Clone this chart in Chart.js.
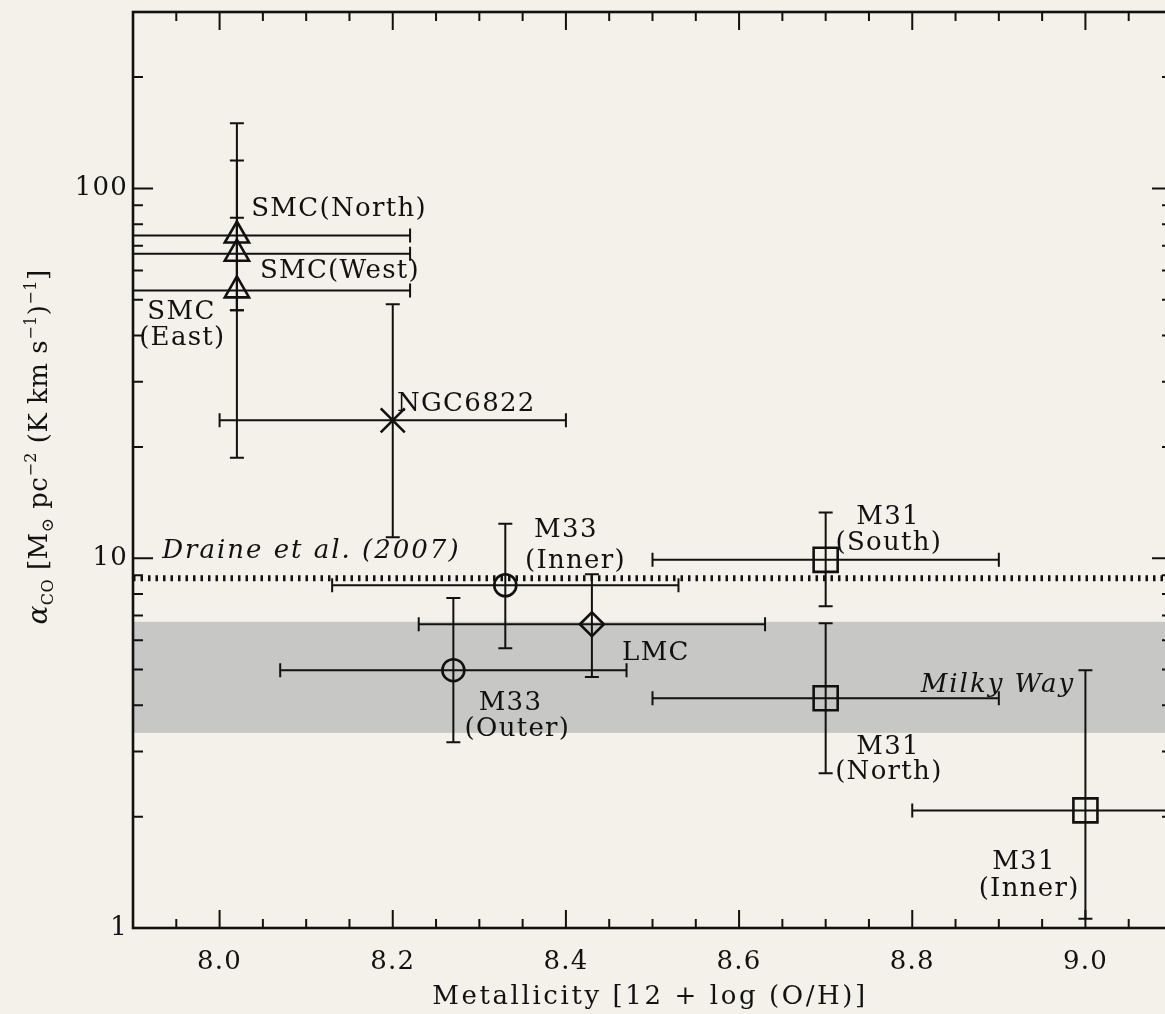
<!DOCTYPE html>
<html><head><meta charset="utf-8">
<script src="https://cdn.jsdelivr.net/npm/chart.js@4.4.0/dist/chart.umd.min.js"></script>
<style>
html,body{margin:0;padding:0;background:#f4f1ea;overflow:hidden;width:1165px;height:1014px;}
#c{position:absolute;left:0;top:0;width:1180px;height:1014px;}
</style></head><body>
<canvas id="c" width="1180" height="1014"></canvas>
<script>
// ---------------- data ----------------
const names        = ['SMC(North)','SMC(West)','SMC(East)','NGC6822','M33(Inner)','M33(Outer)','LMC','M31(South)','M31(North)','M31(Inner)'];
const metallicity  = [8.02, 8.02, 8.02, 8.20, 8.33, 8.27, 8.43, 8.70, 8.70, 9.00];
const metalErr     = [0.20, 0.20, 0.20, 0.20, 0.20, 0.20, 0.20, 0.20, 0.20, 0.20];
const alphaCO      = [74.6, 66.6, 53.0, 23.6, 8.45, 4.98, 6.63, 9.9, 4.18, 2.08];
const alphaLow     = [46.8, 46.8, 18.7, 11.4, 5.71, 3.18, 4.77, 7.42, 2.62, 1.06];
const alphaHigh    = [150, 119, 83.3, 48.6, 12.4, 7.8, 9.05, 13.3, 6.67, 4.98];
const markers      = ['triangle','triangle','triangle','crossRot','circle','circle','rectRot','rect','rect','rect'];

const draineAlpha  = 8.83;            // Draine et al. (2007)
const milkyWayBand = [3.37, 6.73];    // Milky Way range

const xMajorTicks = [8.0, 8.2, 8.4, 8.6, 8.8, 9.0];
const xMinorTicks = [7.95, 8.05, 8.1, 8.15, 8.25, 8.3, 8.35, 8.45, 8.5, 8.55, 8.65, 8.7, 8.75, 8.85, 8.9, 8.95, 9.05];
const yMajorTicks = [1, 10, 100];
const yMinorTicks = [2,3,4,5,6,7,8,9,20,30,40,50,60,70,80,90,200,300];

const xTitle = 'Metallicity [12 + log (O/H)]';

// label anchors in data units [text, x, y, italic]
const labels = [
  ['SMC(North)', 8.138, 87.8, false],
  ['SMC(West)', 8.139, 59.7, false],
  ['SMC', 7.956, 46.2, false],
  ['(East)', 7.957, 39.3, false],
  ['NGC6822', 8.285, 26.1, false],
  ['Draine et al. (2007)', 8.106, 10.44, true],
  ['M33', 8.400, 11.9, false],
  ['(Inner)', 8.411, 9.81, false],
  ['LMC', 8.504, 5.54, false],
  ['M33', 8.336, 4.06, false],
  ['(Outer)', 8.344, 3.45, false],
  ['M31', 8.772, 12.9, false],
  ['(South)', 8.773, 10.98, false],
  ['Milky Way', 8.899, 4.54, true],
  ['M31', 8.772, 3.08, false],
  ['(North)', 8.773, 2.64, false],
  ['M31', 8.929, 1.51, false],
  ['(Inner)', 8.935, 1.27, false]
];

const FONT = '"DejaVu Serif", "Liberation Serif", serif';
const INK = '#111';

const points = names.map((n,i)=>({x:metallicity[i], y:alphaCO[i]}));
const radii = markers.map(m => m==='triangle'?14 : m==='rect'?17 : m==='crossRot'?17 : m==='rectRot'?12 : 11);

const spacingPlugin = {
  id:'spacing',
  beforeDraw(chart){ chart.ctx.letterSpacing = '1.2px'; }
};

const bandPlugin = {
  id:'band',
  beforeDatasetsDraw(chart){
    const {ctx, chartArea:a, scales:{y}} = chart;
    const y1 = y.getPixelForValue(milkyWayBand[1]), y0 = y.getPixelForValue(milkyWayBand[0]);
    ctx.save();
    ctx.fillStyle = '#c7c7c6';
    ctx.fillRect(a.left, y1, a.right-a.left, y0-y1);
    ctx.restore();
  }
};

const errPlugin = {
  id:'errbars',
  afterDatasetsDraw(chart){
    const {ctx, chartArea:a, scales:{x,y}} = chart;
    ctx.save();
    ctx.beginPath(); ctx.rect(a.left, a.top, a.right-a.left, a.bottom-a.top); ctx.clip();
    ctx.strokeStyle = INK; ctx.lineWidth = 2;
    const cap = 7;
    names.forEach((n,i)=>{
      const px = x.getPixelForValue(metallicity[i]);
      const py = y.getPixelForValue(alphaCO[i]);
      const xl = x.getPixelForValue(metallicity[i]-metalErr[i]);
      const xr = x.getPixelForValue(metallicity[i]+metalErr[i]);
      const yl = y.getPixelForValue(alphaLow[i]);
      const yh = y.getPixelForValue(alphaHigh[i]);
      ctx.beginPath();
      ctx.moveTo(xl,py); ctx.lineTo(xr,py);
      ctx.moveTo(xl,py-cap); ctx.lineTo(xl,py+cap);
      ctx.moveTo(xr,py-cap); ctx.lineTo(xr,py+cap);
      ctx.moveTo(px,yl); ctx.lineTo(px,yh);
      ctx.moveTo(px-cap,yl); ctx.lineTo(px+cap,yl);
      ctx.moveTo(px-cap,yh); ctx.lineTo(px+cap,yh);
      ctx.stroke();
    });
    ctx.restore();
  }
};

const framePlugin = {
  id:'frame',
  afterDraw(chart){
    const {ctx, chartArea:a, scales:{x,y}} = chart;
    ctx.save();
    ctx.strokeStyle = INK;
    ctx.lineWidth = 2;
    ctx.beginPath();
    const tk = (v, len) => {
      const p = x.getPixelForValue(v);
      ctx.moveTo(p, a.bottom); ctx.lineTo(p, a.bottom-len);
      ctx.moveTo(p, a.top); ctx.lineTo(p, a.top+len);
    };
    xMajorTicks.forEach(v=>tk(v,18));
    xMinorTicks.forEach(v=>tk(v,9));
    const ty = (v, len) => {
      const p = y.getPixelForValue(v);
      ctx.moveTo(a.left, p); ctx.lineTo(a.left+len, p);
      ctx.moveTo(a.right, p); ctx.lineTo(a.right-len, p);
    };
    yMajorTicks.forEach(v=>ty(v,20));
    yMinorTicks.forEach(v=>ty(v,10));
    ctx.stroke();
    ctx.lineWidth = 2.6;
    ctx.strokeRect(a.left, a.top, a.right-a.left, a.bottom-a.top);

    // annotations
    ctx.fillStyle = INK;
    ctx.textAlign = 'center';
    ctx.textBaseline = 'middle';
    labels.forEach(([t,vx,vy,it])=>{
      ctx.font = (it?'italic ':'') + '26px ' + FONT;
      ctx.letterSpacing = it ? '2px' : '1.3px';
      ctx.fillText(t, x.getPixelForValue(vx), y.getPixelForValue(vy));
    });

    // x-axis title
    ctx.font = '26px ' + FONT;
    ctx.letterSpacing = '2.6px';
    ctx.fillText(xTitle, 650, 997);

    // rich y-axis title
    ctx.letterSpacing = '0.5px';
    const parts = [
      {t:'α', size:28, dy:0, it:true},
      {t:'CO', size:16, dy:6},
      {t:' [M', size:26, dy:0},
      {t:'⊙', size:17, dy:6},
      {t:' pc', size:26, dy:0},
      {t:'−2', size:16, dy:-11},
      {t:' (K km s', size:26, dy:0},
      {t:'−1', size:16, dy:-11},
      {t:')', size:26, dy:0},
      {t:'−1', size:16, dy:-11},
      {t:']', size:26, dy:0}
    ];
    let total = 0;
    parts.forEach(p=>{ ctx.font=(p.it?'italic ':'')+p.size+'px '+FONT; p.w = ctx.measureText(p.t).width; total += p.w; });
    ctx.translate(47, 447);
    ctx.rotate(-Math.PI/2);
    ctx.textAlign = 'left';
    ctx.textBaseline = 'alphabetic';
    let cx = -total/2;
    parts.forEach(p=>{ ctx.font=(p.it?'italic ':'')+p.size+'px '+FONT; ctx.fillText(p.t, cx, p.dy); cx += p.w; });
    ctx.restore();
  }
};

new Chart(document.getElementById('c'), {
  type:'scatter',
  data:{
    datasets:[
      {
        type:'line',
        label:'Draine et al. (2007)',
        data:[{x:7.9,y:draineAlpha},{x:9.1,y:draineAlpha}],
        borderColor:INK, borderWidth:6, borderDash:[2.5,5], pointRadius:0, fill:false
      },
      {
        label:'galaxies',
        data:points,
        pointStyle:markers,
        pointRadius:radii,
        pointBorderWidth:2.6,
        borderColor:INK,
        backgroundColor:'rgba(0,0,0,0)'
      }
    ]
  },
  options:{
    responsive:false, animation:false, devicePixelRatio:1,
    layout:{autoPadding:false, padding:{top:12,right:8,left:0,bottom:0}},
    plugins:{legend:{display:false}, tooltip:{enabled:false}},
    scales:{
      x:{
        type:'linear', min:7.9, max:9.1,
        grid:{display:false, drawTicks:false}, border:{display:false},
        afterBuildTicks(s){ s.ticks = xMajorTicks.map(v=>({value:v})); },
        afterFit(s){ s.height = 86; s.paddingLeft = 0; s.paddingRight = 0; },
        ticks:{color:INK, font:{family:FONT,size:26}, padding:19, maxRotation:0, callback:v=>Number(v).toFixed(1)},
        title:{display:false}
      },
      y:{
        type:'logarithmic', min:1, max:300,
        grid:{display:false, drawTicks:false}, border:{display:false},
        afterBuildTicks(s){ s.ticks = yMajorTicks.map(v=>({value:v})); },
        afterFit(s){ s.width = 133; s.paddingTop = 0; s.paddingBottom = 0; },
        ticks:{color:INK, font:{family:FONT,size:26}, padding:5, callback:v=>String(v)}
      }
    }
  },
  plugins:[spacingPlugin, bandPlugin, errPlugin, framePlugin]
});
</script>
</body></html>
